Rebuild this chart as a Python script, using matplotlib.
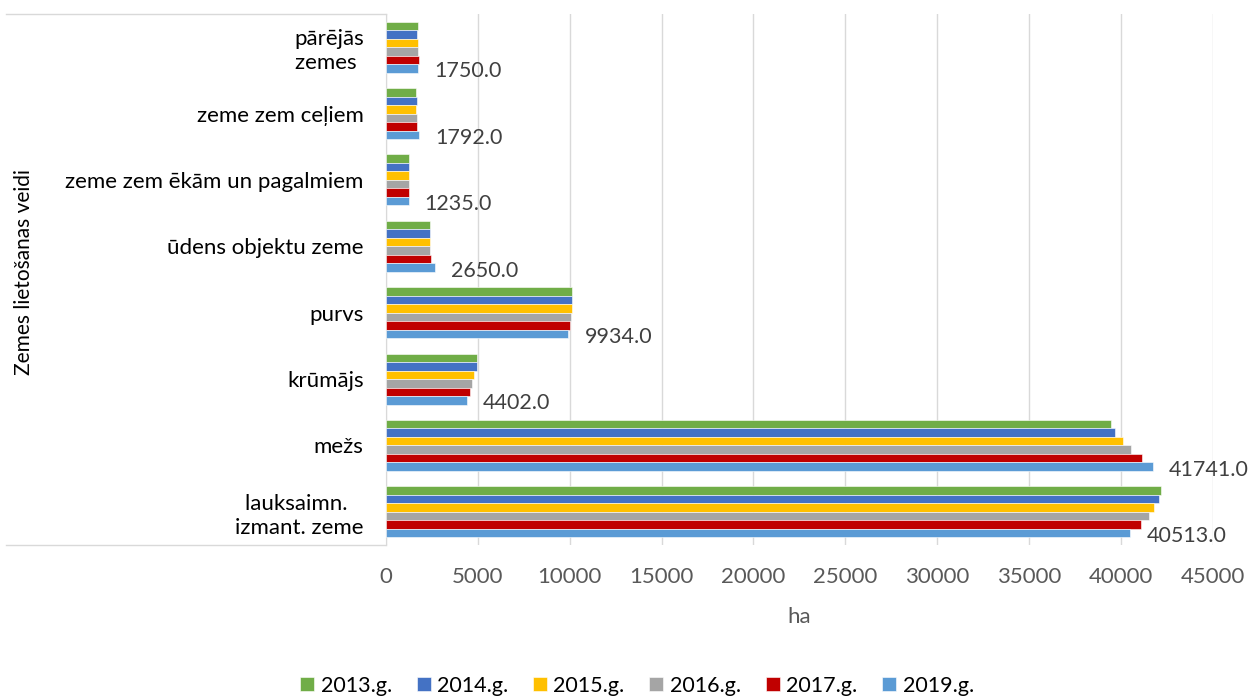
import numpy as np
import matplotlib.pyplot as plt
from matplotlib.lines import Line2D

plt.rcParams['font.family'] = ['Lato', 'DejaVu Sans']

categories = ["lauksaimn. \nizmant. zeme", "mežs", "krūmājs", "purvs",
              "ūdens objektu zeme", "zeme zem ēkām un pagalmiem",
              "zeme zem ceļiem", "pārējās\nzemes "]
years = ["2013.g.", "2014.g.", "2015.g.", "2016.g.", "2017.g.", "2019.g."]

v2013 = [42200, 39460, 4950, 10150, 2420, 1230, 1640, 1720]
v2014 = [42050, 39700, 4930, 10130, 2420, 1232, 1680, 1700]
v2015 = [41780, 40090, 4800, 10110, 2420, 1234, 1640, 1760]
v2016 = [41510, 40570, 4670, 10060, 2420, 1235, 1680, 1740]
v2017 = [41120, 41150, 4550, 10030, 2440, 1236, 1680, 1780]
v2019 = [40513, 41741, 4402, 9934, 2650, 1235, 1792, 1750]

series = [v2013, v2014, v2015, v2016, v2017, v2019]
colors = ["#70AD47", "#4472C4", "#FFC000", "#A5A5A5", "#C00000", "#5B9BD5"]

fig = plt.figure(figsize=(12.49, 6.97), dpi=100)
ax = fig.add_axes([0.309, 0.218, 0.662, 0.762])

y = np.arange(len(categories))
h = 0.128
for i, (vals, col) in enumerate(zip(series, colors)):
    off = (2.5 - i) * h
    ax.barh(y + off, vals, height=h, color=col, edgecolor="white",
            linewidth=0.4, zorder=3, label=years[i])

# data labels, 2019 only
for k, v in enumerate(v2019):
    ax.annotate(f"{v:.1f}", (v, y[k] - 2.5 * h), xytext=(16, -3),
                textcoords="offset pixels", ha="left", va="center",
                fontsize=15.5, color="#404040")

ax.set_xlim(0, 45000)
ax.set_ylim(-0.5, len(categories) - 0.5)
ax.set_xticks(np.arange(0, 45001, 5000))
ax.set_yticks(y)
ax.set_yticklabels(categories, fontsize=16, color="#000000",
                   multialignment="center", linespacing=1.25)
ax.tick_params(axis="y", length=0, pad=16)
ax.tick_params(axis="x", length=0, pad=16, labelsize=16, labelcolor="#595959")
ax.grid(axis="x", color="#D9D9D9", linewidth=1, zorder=0)
for s in ["top", "right", "bottom"]:
    ax.spines[s].set_visible(False)
ax.spines["left"].set_color("#D9D9D9")

ax.set_xlabel("ha", fontsize=16, color="#595959", labelpad=14)
fig.text(0.019, 0.61, "Zemes lietošanas veidi", rotation=90, fontsize=15,
         ha="center", va="center")

# box lines of the category axis
fig.add_artist(Line2D([0.005, 0.309], [0.980, 0.980], color="#D9D9D9", lw=1))
fig.add_artist(Line2D([0.005, 0.309], [0.218, 0.218], color="#D9D9D9", lw=1))

handles, labels = ax.get_legend_handles_labels()
fig.legend(handles, labels, loc="center", bbox_to_anchor=(0.51, 0.016),
           ncol=6, frameon=False, fontsize=15.5, handlelength=0.65,
           handleheight=0.65, handletextpad=0.3, columnspacing=1.15)

fig.savefig("out.png", dpi=100)
